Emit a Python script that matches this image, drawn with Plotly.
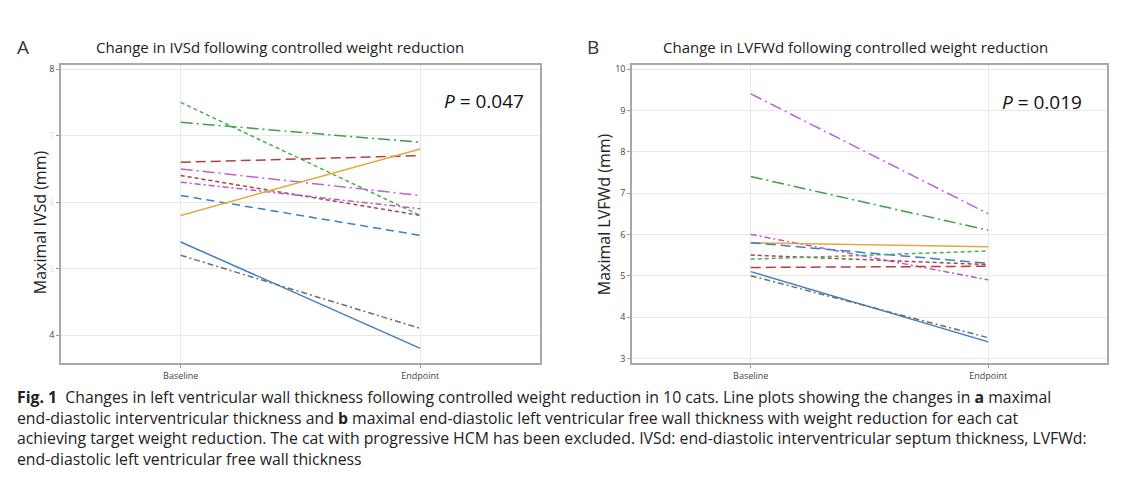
import plotly.graph_objects as go

# Page body has an 8px margin; work in reference-pixel coordinates and offset.
OFF = 8
W, H = 1110, 469

categories = ["Baseline", "Endpoint"]

# Panel A: Maximal IVSd (mm)
ivsd_baseline = [7.5, 7.2, 6.6, 6.5, 6.4, 6.3, 6.1, 5.8, 5.4, 5.2]
ivsd_endpoint = [5.8, 6.9, 6.7, 6.1, 5.8, 5.9, 5.5, 6.8, 3.8, 4.1]
ivsd_colors = ["#4dab55", "#3f9e4a", "#b5403f", "#c060d6", "#a8413f",
               "#b659cc", "#3d7fc4", "#e3a83e", "#3d7fc4", "#6e6e6e"]
ivsd_dash = ["4px,3px", "12px,4px,2px,4px", "10px,5px", "12px,4px,2px,4px", "4px,3px",
             "6px,3px,2px,3px", "8px,5px", "solid", "solid", "6px,3px,2px,3px"]

# Panel B: Maximal LVFWd (mm)
lvfwd_baseline = [9.4, 7.4, 6.0, 5.8, 5.8, 5.5, 5.4, 5.2, 5.1, 5.0]
lvfwd_endpoint = [6.5, 6.1, 4.9, 5.7, 5.3, 5.27, 5.6, 5.23, 3.4, 3.5]
lvfwd_colors = ["#c060d6", "#3f9e4a", "#b659cc", "#e3a83e", "#3d7fc4",
                "#b5403f", "#4dab55", "#c0393b", "#3d7fc4", "#6e6e6e"]
lvfwd_dash = ["12px,4px,2px,4px", "12px,4px,2px,4px", "6px,3px,2px,3px", "solid", "10px,5px",
              "4px,3px", "4px,3px", "10px,5px", "solid", "6px,3px,2px,3px"]

ivsd_ticks = [4, 5, 6, 7, 8]
ivsd_ticktext = ["4", "<span style='color:#dddddd'>5</span>",
                 "<span style='color:#dddddd'>6</span>",
                 "<span style='color:#dddddd'>7</span>", "8"]
lvfwd_ticks = [3, 4, 5, 6, 7, 8, 9, 10]

fig = go.Figure()

for b, e, c, d in zip(ivsd_baseline, ivsd_endpoint, ivsd_colors, ivsd_dash):
    fig.add_trace(go.Scatter(x=categories, y=[b, e], mode="lines",
                             line=dict(color=c, width=1.5, dash=d),
                             xaxis="x", yaxis="y", showlegend=False))
for b, e, c, d in zip(lvfwd_baseline, lvfwd_endpoint, lvfwd_colors, lvfwd_dash):
    fig.add_trace(go.Scatter(x=categories, y=[b, e], mode="lines",
                             line=dict(color=c, width=1.5, dash=d),
                             xaxis="x2", yaxis="y2", showlegend=False))

def px_x(p):
    return (p - OFF) / W

def px_y(p):
    return 1 - (p - OFF) / H

ydom = [px_y(364), px_y(63)]

axis_common = dict(showline=True, mirror=True, linecolor="#a8a8a8", linewidth=1.5,
                   showgrid=True, gridcolor="#e8e8e8", gridwidth=1,
                   ticks="outside", ticklen=3, tickcolor="#999999",
                   tickfont=dict(family="Open Sans", size=9, color="#444444"),
                   zeroline=False)

fig.update_layout(
    width=W, height=H,
    margin=dict(l=0, r=0, t=0, b=0),
    paper_bgcolor="white", plot_bgcolor="white",
    xaxis=dict(domain=[px_x(61), px_x(540)], type="category", range=[-0.5, 1.5],
               anchor="y", **axis_common),
    yaxis=dict(domain=ydom, range=[3.58, 8.07], tickvals=ivsd_ticks, ticktext=ivsd_ticktext,
               anchor="x", **axis_common),
    xaxis2=dict(domain=[px_x(632), px_x(1107)], type="category", range=[-0.5, 1.5],
                anchor="y2", **axis_common),
    yaxis2=dict(domain=ydom, range=[2.89, 10.11], tickvals=lvfwd_ticks,
                anchor="x2", **axis_common),
)

annos = []
F = "Open Sans"
annos.append(dict(text="A", x=px_x(15), y=px_y(45), xanchor="left", yanchor="middle",
                  font=dict(family=F, size=19, color="#333333")))
annos.append(dict(text="B", x=px_x(585), y=px_y(45), xanchor="left", yanchor="middle",
                  font=dict(family=F, size=19, color="#333333")))
annos.append(dict(text="Change in IVSd following controlled weight reduction",
                  x=px_x(280), y=px_y(45), xanchor="center", yanchor="middle",
                  font=dict(family=F, size=15, color="#222222")))
annos.append(dict(text="Change in LVFWd following controlled weight reduction",
                  x=px_x(855), y=px_y(45), xanchor="center", yanchor="middle",
                  font=dict(family=F, size=15, color="#222222")))
annos.append(dict(text="Maximal IVSd (mm)", x=px_x(40), y=px_y(222), textangle=-90,
                  xanchor="center", yanchor="middle",
                  font=dict(family=F, size=16, color="#222222")))
annos.append(dict(text="Maximal LVFWd (mm)", x=px_x(604), y=px_y(214), textangle=-90,
                  xanchor="center", yanchor="middle",
                  font=dict(family=F, size=16, color="#222222")))
annos.append(dict(text="<i>P</i> = 0.047", x=px_x(526), y=px_y(100), xanchor="right",
                  yanchor="middle", font=dict(family=F, size=19, color="#111111")))
annos.append(dict(text="<i>P</i> = 0.019", x=px_x(1084), y=px_y(101), xanchor="right",
                  yanchor="middle", font=dict(family=F, size=19, color="#111111")))

caption_lines = [
    "<b>Fig. 1</b>  Changes in left ventricular wall thickness following controlled weight reduction in 10 cats. Line plots showing the changes in <b>a</b> maximal",
    "end-diastolic interventricular thickness and <b>b</b> maximal end-diastolic left ventricular free wall thickness with weight reduction for each cat",
    "achieving target weight reduction. The cat with progressive HCM has been excluded. IVSd: end-diastolic interventricular septum thickness, LVFWd:",
    "end-diastolic left ventricular free wall thickness",
]
annos.append(dict(text="<br>".join(caption_lines), x=px_x(15), y=px_y(385),
                  xanchor="left", yanchor="top", align="left",
                  font=dict(family=F, size=15.8, color="#222222")))

for a in annos:
    a.update(xref="paper", yref="paper", showarrow=False)
fig.update_layout(annotations=annos)

fig.write_html("out.html")
